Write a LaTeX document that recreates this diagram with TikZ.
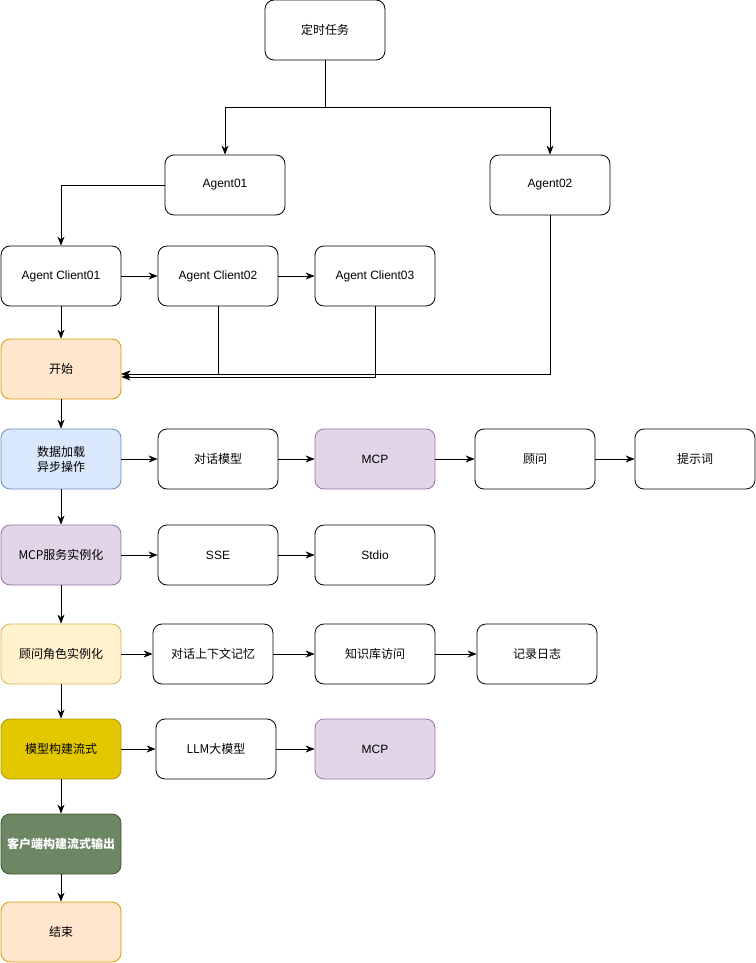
\documentclass[tikz,border=0pt]{standalone}
\usepackage{fontspec}
\setmainfont{Liberation Sans}
\newfontfamily\cjk{Noto Sans CJK SC}
\usetikzlibrary{arrows.meta,positioning}

\definecolor{startfill}{HTML}{FFE6CC}
\definecolor{startline}{HTML}{D79B00}
\definecolor{bluefill}{HTML}{DAE8FC}
\definecolor{blueline}{HTML}{6C8EBF}
\definecolor{purplefill}{HTML}{E1D5E7}
\definecolor{purpleline}{HTML}{9673A6}
\definecolor{yellowfill}{HTML}{FFF2CC}
\definecolor{yellowline}{HTML}{D6B656}
\definecolor{goldfill}{HTML}{E3C800}
\definecolor{goldline}{HTML}{B09500}
\definecolor{greenfill}{HTML}{6D8764}
\definecolor{greenline}{HTML}{3A5431}

\tikzset{
  box/.style={draw,line width=0.8pt,rounded corners=9pt,minimum width=120pt,minimum height=60pt,
    align=center,inner sep=2pt,font=\fontsize{12}{15}\selectfont},
  startbox/.style={box,fill=startfill,draw=startline},
  bluebox/.style={box,fill=bluefill,draw=blueline},
  mcpbox/.style={box,fill=purplefill,draw=purpleline},
  yellowbox/.style={box,fill=yellowfill,draw=yellowline},
  goldbox/.style={box,fill=goldfill,draw=goldline},
  greenbox/.style={box,fill=greenfill,draw=greenline,text=white},
  arr/.style={draw,line width=0.8pt,-{Stealth[length=9pt,width=7pt]}}
}

\begin{document}
\begin{tikzpicture}[x=1pt,y=-1pt]
\useasboundingbox (0,0) rectangle (755.5,963);

% top part
\node [box] (task) at (325,30) {\cjk 定时任务};
\node [box] (agent1) at (225,185) {Agent01};
\node [box] (agent2) at (550,185) {Agent02};
\node [box] (client1) at (61,276) {Agent Client01};
\node [box] (client2) at (218,276) {Agent Client02};
\node [box] (client3) at (375,276) {Agent Client03};

% main flow
\node [startbox] (start) at (61,369) {\cjk 开始};
\node [bluebox] (load) at (61,459) {\cjk 数据加载\\\cjk 异步操作};
\node [mcpbox] (mcpinit) at (61,555) {\cjk MCP服务实例化};
\node [yellowbox] (advisor) at (61,654) {\cjk 顾问角色实例化};
\node [goldbox] (model) at (61,749) {\cjk 模型构建流式};
\node [greenbox] (client) at (61,844) {\cjk\bfseries 客户端构建流式输出};
\node [startbox] (end) at (61,932) {\cjk 结束};

% side rows
\node [box] (chat) at (218,459) {\cjk 对话模型};
\node [mcpbox] (mcp1) at (375,459) {MCP};
\node [box] (adv) at (535,459) {\cjk 顾问};
\node [box] (prompt) at (695,459) {\cjk 提示词};
\node [box] (sse) at (218,555) {SSE};
\node [box] (stdio) at (375,555) {Stdio};
\node [box] (memory) at (213,654) {\cjk 对话上下文记忆};
\node [box] (kb) at (375,654) {\cjk 知识库访问};
\node [box] (log) at (537,654) {\cjk 记录日志};
\node [box] (llm) at (216,749) {\cjk LLM大模型};
\node [mcpbox] (mcp2) at (375,749) {MCP};

% connectors
\draw [arr] (task.south) -- ++(0,47) -| (agent1.north);
\draw [arr] (task.south) -- ++(0,47) -| (agent2.north);
\draw [arr] (agent1.west) -| (client1.north);
\draw [arr] (client1) -- (client2);
\draw [arr] (client2) -- (client3);
\draw [arr] (client1) -- (start);
\draw [arr] (client2.south) |- ([yshift=-5pt]start.east);
\draw [arr] (client3.south) |- ([yshift=-8pt]start.east);
\draw [arr] (agent2.south) |- ([yshift=-5pt]start.east);

\draw [arr] (start) -- (load);
\draw [arr] (load) -- (mcpinit);
\draw [arr] (mcpinit) -- (advisor);
\draw [arr] (advisor) -- (model);
\draw [arr] (model) -- (client);
\draw [arr] (client) -- (end);

\draw [arr] (load) -- (chat);
\draw [arr] (chat) -- (mcp1);
\draw [arr] (mcp1) -- (adv);
\draw [arr] (adv) -- (prompt);
\draw [arr] (mcpinit) -- (sse);
\draw [arr] (sse) -- (stdio);
\draw [arr] (advisor) -- (memory);
\draw [arr] (memory) -- (kb);
\draw [arr] (kb) -- (log);
\draw [arr] (model) -- (llm);
\draw [arr] (llm) -- (mcp2);
\end{tikzpicture}
\end{document}
